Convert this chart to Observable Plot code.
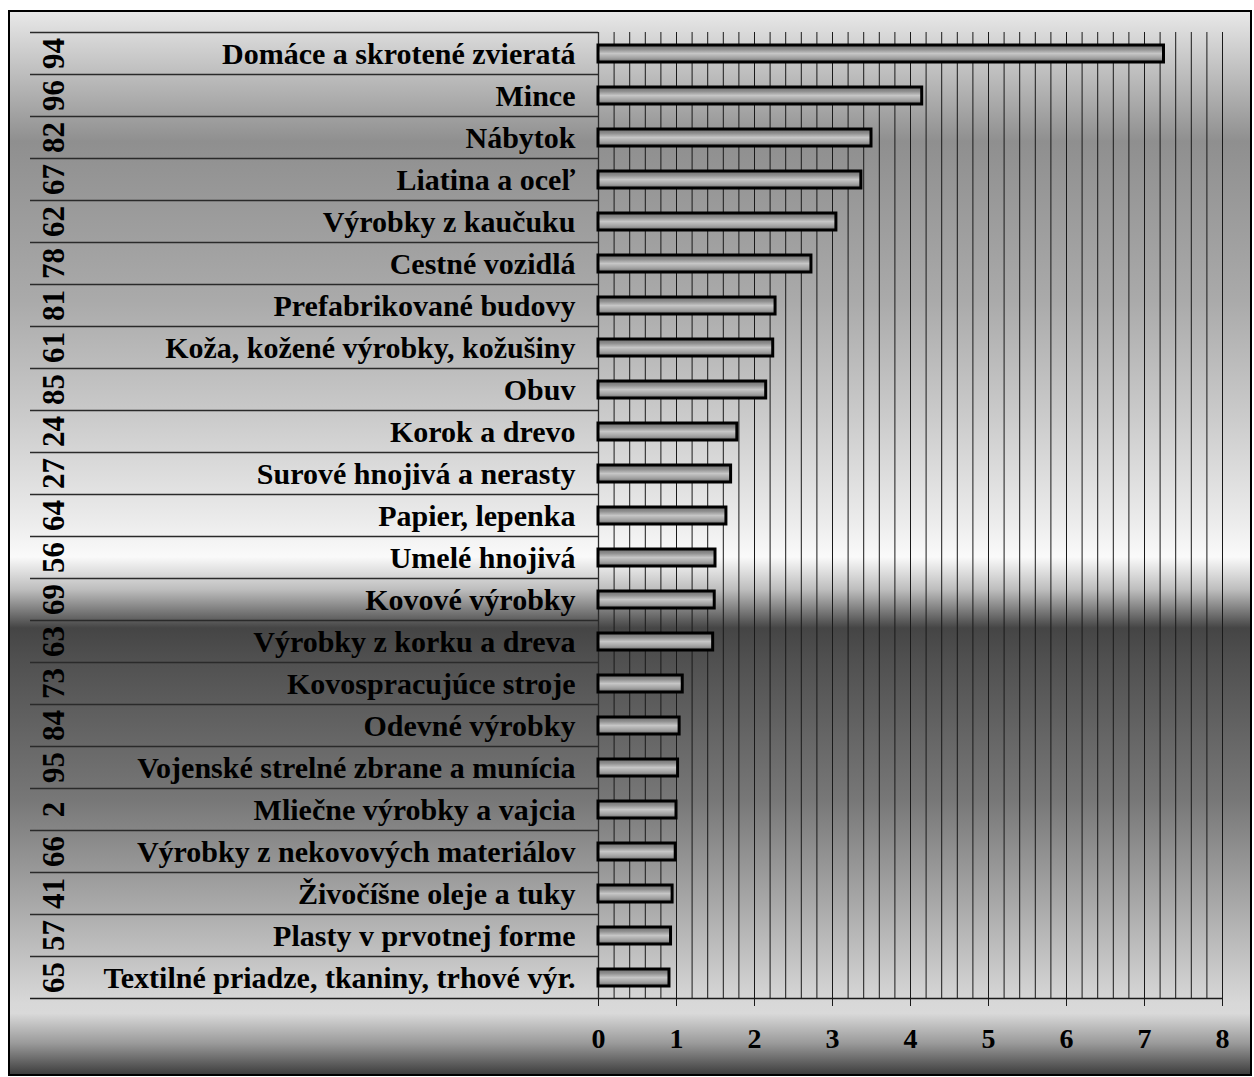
<!DOCTYPE html>
<html>
<head>
<meta charset="utf-8">
<script src="https://cdn.jsdelivr.net/npm/d3@7"></script>
<script src="https://cdn.jsdelivr.net/npm/@observablehq/plot@0.6"></script>
<style>
  html, body { margin: 0; padding: 0; background: #ffffff; }
  #wrap { position: relative; width: 1254px; height: 1077px; }
  #panel {
    position: absolute; left: 8px; top: 10px; width: 1244px; height: 1066px;
    box-sizing: border-box; border: 2px solid #000;
    background: linear-gradient(to bottom,
      #e8e8e8 0%, #8f8f8f 12.2%, #aaaaaa 27.2%, #cccccc 38.5%, #ebebeb 47.8%,
      #fafafa 51.3%, #bdbdbd 54.4%, #454545 58%, #505050 61%, #777777 74.1%,
      #a6a6a6 83.5%, #d8d8d8 93.3%, #d9d9d9 94.3%, #9a9a9a 97.1%, #3e3e3e 100%);
  }
  #chart { position: absolute; left: 0; top: 0; }
  #chart svg { background: transparent; }
</style>
</head>
<body>
<div id="wrap"><div id="panel"></div><div id="chart"></div></div>
<script>
const codes = ["94","96","82","67","62","78","81","61","85","24","27","64","56","69","63","73","84","95","2","66","41","57","65"];
const categories = [
  "Domáce a skrotené zvieratá","Mince","Nábytok","Liatina a oceľ","Výrobky z kaučuku",
  "Cestné vozidlá","Prefabrikované budovy","Koža, kožené výrobky, kožušiny","Obuv",
  "Korok a drevo","Surové hnojivá a nerasty","Papier, lepenka","Umelé hnojivá",
  "Kovové výrobky","Výrobky z korku a dreva","Kovospracujúce stroje","Odevné výrobky",
  "Vojenské strelné zbrane a munícia","Mliečne výrobky a vajcia","Výrobky z nekovových materiálov",
  "Živočíšne oleje a tuky","Plasty v prvotnej forme","Textilné priadze, tkaniny, trhové výr."
];
const values = [7.25,4.15,3.50,3.37,3.05,2.73,2.27,2.24,2.15,1.78,1.70,1.64,1.50,1.49,1.47,1.08,1.04,1.02,1.00,0.99,0.95,0.93,0.91];
const xTicks = [0,1,2,3,4,5,6,7,8];
const gridTicks = d3.range(1, 41).map(i => i / 5);

const rows = categories.map((c, i) => ({cat: c, code: codes[i], value: values[i]}));

const W = 1254, H = 1077;
const mL = 598, mR = 32, mT = 32, mB = 79;
const band = (H - mT - mB) / categories.length;
const labelLeft = 30; // where the label-column separators start
const font = "'Liberation Serif', 'Times New Roman', serif";

const defs = () => {
  const svgNS = "http://www.w3.org/2000/svg";
  const d = document.createElementNS(svgNS, "defs");
  d.innerHTML = `<linearGradient id="barGrad" x1="0" y1="0" x2="0" y2="1">
    <stop offset="0%" stop-color="#6e6e6e"/>
    <stop offset="25%" stop-color="#8e8e8e"/>
    <stop offset="50%" stop-color="#c6c6c6"/>
    <stop offset="78%" stop-color="#a0a0a0"/>
    <stop offset="100%" stop-color="#6a6a6a"/>
  </linearGradient>`;
  return d;
};

const chart = Plot.plot({
  width: W, height: H,
  marginLeft: mL, marginRight: mR, marginTop: mT, marginBottom: mB,
  style: {background: "transparent", fontFamily: font, fontWeight: "bold", color: "#000", overflow: "visible"},
  x: {domain: [0, 8], axis: null},
  y: {type: "band", domain: categories, padding: 0, axis: null},
  marks: [
    defs,
    Plot.gridX(gridTicks, {stroke: "#1a1a1a", strokeOpacity: 1, strokeWidth: 1}),
    Plot.ruleY(rows, {y: "cat", dy: -band / 2, insetLeft: -(mL - labelLeft), insetRight: W - mL - mR, stroke: "#2a2a2a", strokeWidth: 1.3}),
    Plot.ruleY(rows.slice(-1), {y: "cat", dy: band / 2, insetLeft: -(mL - labelLeft), stroke: "#1a1a1a", strokeWidth: 1.3}),
    Plot.ruleX([0], {stroke: "#2a2a2a", strokeWidth: 1.3}),
    Plot.barX(rows, {x: "value", y: "cat", fill: "url(#barGrad)", stroke: "#000", strokeWidth: 3, insetTop: 13, insetBottom: 12}),
    Plot.text(rows, {y: "cat", text: "cat", frameAnchor: "left", dx: -23, dy: 1, textAnchor: "end", fontSize: 30, fontWeight: "bold", fill: "#000"}),
    Plot.text(rows, {y: "cat", text: "code", frameAnchor: "left", dx: -(mL - 54), rotate: -90, textAnchor: "middle", lineAnchor: "middle", fontSize: 31, fontWeight: "bold", fill: "#000"}),
    Plot.axisX({ticks: xTicks, tickSize: 8, tickPadding: 22, fontSize: 28, fontWeight: "bold", stroke: "#1a1a1a", label: null, tickFormat: d3.format("d")})
  ]
});
document.getElementById("chart").appendChild(chart);
</script>
</body>
</html>
